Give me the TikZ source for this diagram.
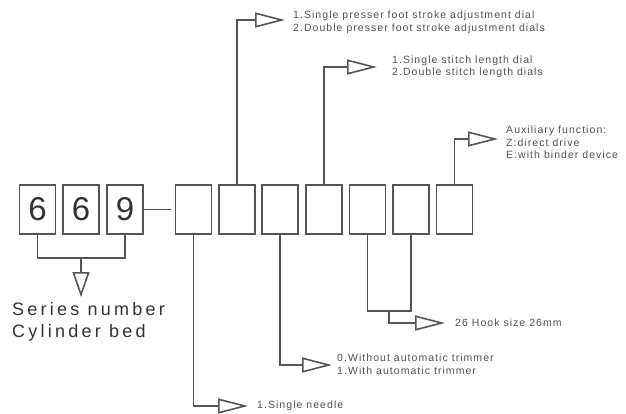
\documentclass[tikz,border=0pt]{standalone}
\usepackage{fontspec}
\setmainfont{Liberation Sans}
\newfontfamily\spfont[LetterSpace=10]{Liberation Sans}
\newfontfamily\bigspfont[LetterSpace=18]{Liberation Sans}
\usetikzlibrary{arrows.meta}
\definecolor{ln}{HTML}{555555}
\definecolor{tx}{HTML}{505050}
\definecolor{dg}{HTML}{333333}
\begin{document}
\begin{tikzpicture}[x=1pt,y=-1pt,
  box/.style={draw=ln, line width=1.6pt, minimum width=36pt, minimum height=49pt, inner sep=0pt, fill=white},
  digit/.style={box, text=dg, font=\fontsize{33}{33}\selectfont},
  conn/.style={draw=ln, line width=1.6pt},
  tri/.style={conn, -{Triangle[open, length=30pt, width=15pt, line width=1.6pt]}},
  lbl/.style={text=tx, font=\spfont\fontsize{10.5}{12.5}\selectfont, align=left, inner sep=0pt, anchor=west},
  big/.style={text=dg, font=\bigspfont\fontsize{18}{22}\selectfont, align=left, inner sep=0pt, anchor=north west}]
\useasboundingbox (0,0) rectangle (626,413);
% series digits
\node[digit] (d1) at (37.5,209.5) {6};
\node[digit] (d2) at (81,209.5) {6};
\node[digit] (d3) at (125,209.5) {9};
% code boxes
\node[box] (b1) at (193.5,209.5) {};
\node[box] (b2) at (237,209.5) {};
\node[box] (b3) at (280,209.5) {};
\node[box] (b4) at (324,209.5) {};
\node[box] (b5) at (367.5,209.5) {};
\node[box] (b6) at (411,209.5) {};
\node[box] (b7) at (454.5,209.5) {};
\draw[conn, shorten >=4pt] (d3.east) -- (b1.west);
% series bracket
\coordinate (sj) at (81,258);
\coordinate (st) at (81,297);
\draw[conn] (d1.south) |- (sj) -| (d3.south);
\draw[conn, -{Triangle[open, length=25pt, width=17pt, line width=1.6pt]}] (sj) -- (st);
\node[big] (series) at (12,302) {Series number\\Cylinder bed};
% presser foot
\coordinate (tB) at (285,20);
\draw[tri] (b2.north) |- (tB);
\node[lbl] (lB) at (293,22.5) {1.Single presser foot stroke adjustment dial\\2.Double presser foot stroke adjustment dials};
% stitch length
\coordinate (tD) at (377,67);
\draw[tri] (b4.north) |- (tD);
\node[lbl] (lD) at (392,67) {1.Single stitch length dial\\2.Double stitch length dials};
% auxiliary
\coordinate (tG) at (498,139);
\draw[tri] (b7.north) |- (tG);
\node[lbl] (lG) at (506,142.5) {Auxiliary function:\\Z:direct drive\\E:with binder device};
% needle
\coordinate (tA) at (248,406);
\draw[tri] (b1.south) |- (tA);
\node[lbl] (lA) at (257,406) {1.Single needle};
% trimmer
\coordinate (tC) at (332,365);
\draw[tri] (b3.south) |- (tC);
\node[lbl] (lC) at (337,364) {0.Without automatic trimmer\\1.With automatic trimmer};
% hook
\coordinate (ej) at (389,311);
\coordinate (tEF) at (445,323);
\draw[conn] (b5.south) |- (ej) -| (b6.south);
\draw[tri] (ej) |- (tEF);
\node[lbl] (lEF) at (455,323) {26 Hook size 26mm};
\end{tikzpicture}
\end{document}
